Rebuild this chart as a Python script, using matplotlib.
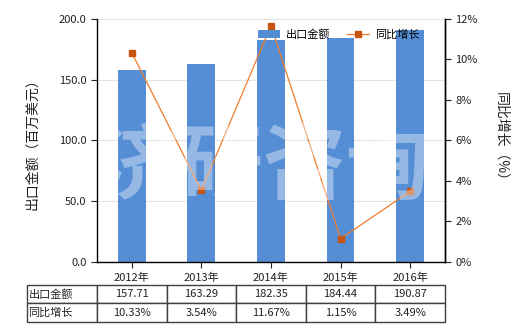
import matplotlib
matplotlib.use("Agg")
import matplotlib.pyplot as plt
from matplotlib.ticker import FuncFormatter
import numpy as np

plt.rcParams['font.family'] = ['Noto Sans CJK SC', 'DejaVu Sans']
plt.rcParams['axes.unicode_minus'] = False

years = ["2012年", "2013年", "2014年", "2015年", "2016年"]
export_value = [157.71, 163.29, 182.35, 184.44, 190.87]
yoy_growth = [10.33, 3.54, 11.67, 1.15, 3.49]
value_labels = ["157.71", "163.29", "182.35", "184.44", "190.87"]
growth_labels = ["10.33%", "3.54%", "11.67%", "1.15%", "3.49%"]

bar_color = "#558ED5"
line_color = "#F07D2E"
marker_color = "#C8550F"
text_color = "#222222"

fig = plt.figure(figsize=(5.2, 3.3), dpi=100)
ax = fig.add_axes([0.1865, 0.2061, 0.6692, 0.7364])
ax2 = ax.twinx()

x = np.arange(len(years))
bars = ax.bar(x, export_value, width=0.4, color=bar_color, zorder=2, label="出口金额")
ax.set_xlim(-0.5, len(years) - 0.5)
ax.set_ylim(0, 200)
ax.set_yticks([0, 50, 100, 150, 200])
ax.yaxis.set_major_formatter(FuncFormatter(lambda v, p: f"{v:.1f}"))
ax.grid(axis="y", color="#E6E4DC", lw=0.8, zorder=0)
ax.set_axisbelow(True)
ax.set_xticks(x)
ax.set_xticklabels(years)
ax.set_ylabel("出口金额（百万美元）", fontsize=10, color=text_color, labelpad=14)

line, = ax2.plot(x, yoy_growth, color=line_color, lw=0.9, marker="s", markersize=5,
                 markerfacecolor=marker_color, markeredgecolor=marker_color, zorder=3,
                 label="同比增长")
ax2.set_ylim(0, 12)
ax2.set_yticks([0, 2, 4, 6, 8, 10, 12])
ax2.yaxis.set_major_formatter(FuncFormatter(lambda v, p: f"{v:.0f}%"))
ax2.set_ylabel("同比增长（%）", fontsize=10, color=text_color, rotation=-90, labelpad=22)

for a in (ax, ax2):
    a.spines["top"].set_visible(False)
    for s in ("left", "right", "bottom"):
        a.spines[s].set_color("#000000")
        a.spines[s].set_linewidth(1.0)
    a.tick_params(labelsize=8, colors=text_color, length=4, width=0.8)
ax2.spines["left"].set_visible(False)
ax2.spines["bottom"].set_visible(False)

leg = ax2.legend([bars, line], ["出口金额", "同比增长"], ncol=2, frameon=False,
                 fontsize=8, loc="upper left", bbox_to_anchor=(0.45, 0.975),
                 handlelength=2.0, handletextpad=0.5, columnspacing=1.5,
                 borderaxespad=0)

# watermark
fig.text(0.505, 0.49, "济研咨询", fontsize=60, fontweight="bold", color="white",
         alpha=0.38, ha="center", va="center", zorder=10)

# data table under the chart
cells = [["出口金额"] + value_labels, ["同比增长"] + growth_labels]
tbl = ax.table(cellText=cells, cellLoc="center",
               colWidths=[70 / 348] + [69.6 / 348] * 5,
               bbox=[-70 / 348, -60 / 243, 418 / 348, 37 / 243])
tbl.auto_set_font_size(False)
tbl.set_fontsize(8)
for (r, c), cell in tbl.get_celld().items():
    cell.set_edgecolor("#404040")
    cell.set_linewidth(1.0)
    cell.get_text().set_color(text_color)
    if c == 0:
        cell.get_text().set_ha("left")
        cell.PAD = 0.02

fig.savefig("out.png", dpi=100)
